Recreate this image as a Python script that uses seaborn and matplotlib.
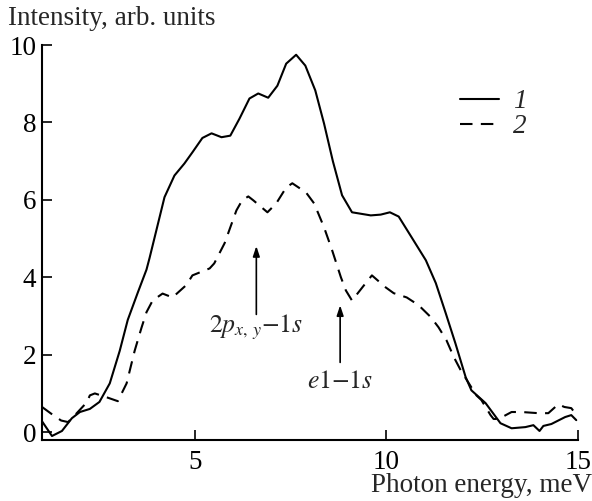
import numpy as np
import pandas as pd
import matplotlib
matplotlib.use("Agg")
import matplotlib.pyplot as plt
import seaborn as sns

# Curve 1 (solid)
x1 = [1.0, 1.26, 1.52, 1.78, 1.99, 2.25, 2.5, 2.77, 3.03, 3.24, 3.5, 3.73, 3.81,
      4.2, 4.46, 4.72, 4.93, 5.19, 5.43, 5.69, 5.92, 6.16, 6.42, 6.65, 6.91, 7.15,
      7.38, 7.64, 7.88, 8.14, 8.37, 8.6, 8.84, 9.1, 9.59, 9.85, 10.09, 10.32, 10.66,
      11.03, 11.29, 11.55, 11.8, 12.07, 12.22, 12.59, 12.98, 13.27, 13.63, 13.84,
      14.0, 14.1, 14.31, 14.67, 14.83, 14.96]
y1 = [0.28, -0.1, 0.03, 0.36, 0.52, 0.6, 0.78, 1.26, 2.1, 2.9, 3.6, 4.2, 4.5,
      6.07, 6.63, 6.94, 7.23, 7.6, 7.72, 7.62, 7.66, 8.1, 8.62, 8.75, 8.64, 8.95,
      9.52, 9.75, 9.47, 8.83, 7.97, 7.0, 6.12, 5.68, 5.6, 5.62, 5.68, 5.57, 5.03,
      4.44, 3.85, 3.07, 2.3, 1.42, 1.08, 0.75, 0.23, 0.1, 0.13, 0.18,
      0.03, 0.16, 0.21, 0.39, 0.44, 0.31]

# Curve 2 (dashed)
x2 = [1.0, 1.29, 1.5, 1.68, 1.86, 2.17, 2.25, 2.38, 2.69, 2.98, 3.21, 3.42, 3.6,
      3.73, 3.89, 4.15, 4.41, 4.77, 4.93, 5.38, 5.5, 5.77, 6.08, 6.23, 6.39, 6.52,
      6.89, 7.12, 7.38, 7.54, 7.9, 8.11, 8.37, 8.58, 8.81, 8.94, 9.1, 9.41, 9.62,
      9.98, 10.19, 10.53, 10.84, 11.16, 11.36, 11.57, 11.76, 11.94, 12.35, 12.48,
      12.72, 12.8, 12.93, 13.27, 13.53, 13.97, 14.23, 14.49, 14.65, 14.83, 14.96]
y2 = [0.65, 0.44, 0.3, 0.26, 0.44, 0.77, 0.95, 1.0, 0.9, 0.8, 1.26, 2.1, 2.7,
      3.1, 3.4, 3.58, 3.48, 3.8, 4.05, 4.23, 4.36, 4.88, 5.73, 5.99, 6.09, 5.99,
      5.68, 5.91, 6.32, 6.43, 6.19, 5.91, 5.29, 4.7, 4.0, 3.66, 3.4, 3.79, 4.05,
      3.74, 3.59, 3.48, 3.28, 2.97, 2.71, 2.37, 1.94, 1.6, 0.95, 0.83,
      0.44, 0.34, 0.34, 0.52, 0.52, 0.49, 0.49, 0.72, 0.65, 0.62, 0.45]

series_labels = ["1", "2"]
x_ticks = [5, 10, 15]
y_ticks = [0, 2, 4, 6, 8, 10]

sns.set_style("ticks")
plt.rcParams["font.family"] = ["Liberation Serif", "DejaVu Serif"]
plt.rcParams["mathtext.fontset"] = "stix"

FS = 19.5

fig = plt.figure(figsize=(5.92, 5.01), dpi=100)
ax = fig.add_axes([0.071, 0.122, 0.905, 0.788])

df1 = pd.DataFrame({"x": x1, "y": y1})
df2 = pd.DataFrame({"x": x2, "y": y2})
sns.lineplot(data=df1, x="x", y="y", ax=ax, color="black", lw=1.5,
             sort=False, label=series_labels[0])
sns.lineplot(data=df2, x="x", y="y", ax=ax, color="black", lw=1.5,
             sort=False, label=series_labels[1], dashes=False)
ax.lines[1].set_dashes((6, 4))

ax.set_xlim(1, 15)
ax.set_ylim(-0.2, 10)
ax.set_xticks(x_ticks)
ax.set_yticks(y_ticks)
ax.tick_params(direction="in", length=7, width=1.2, labelsize=FS, colors="black")
ax.tick_params(axis="y", pad=4)
ax.tick_params(axis="x", pad=7)
for s in ["top", "right"]:
    ax.spines[s].set_visible(False)
for s in ["left", "bottom"]:
    ax.spines[s].set_linewidth(1.5)
    ax.spines[s].set_color("black")

ax.set_xlabel("")
ax.set_ylabel("")
fig.text(0.013, 0.963, "Intensity, arb. units", fontsize=FS, ha="left", va="center")
fig.text(1.0, 0.031, "Photon energy, meV", fontsize=FS, ha="right", va="center")

leg = ax.legend(loc="upper left", bbox_to_anchor=(0.76, 0.915), frameon=False,
                fontsize=FS, handlelength=1.45, handletextpad=0.5, labelspacing=0.0,
                borderaxespad=0)
for t in leg.get_texts():
    t.set_fontstyle("italic")

arrow_kw = dict(arrowstyle="-|>,head_length=0.6,head_width=0.2", color="black", lw=1.2)
ax.annotate("", xy=(6.6, 4.88), xytext=(6.6, 2.97), arrowprops=arrow_kw)
ax.text(6.6, 2.7, r"$2p_{x,\,y}{-}1s$", fontsize=18.5, ha="center", va="center")
ax.annotate("", xy=(8.79, 3.35), xytext=(8.79, 1.73), arrowprops=arrow_kw)
ax.text(8.79, 1.3, r"$e1{-}1s$", fontsize=18.5, ha="center", va="center")

fig.savefig("out.png", dpi=100)
